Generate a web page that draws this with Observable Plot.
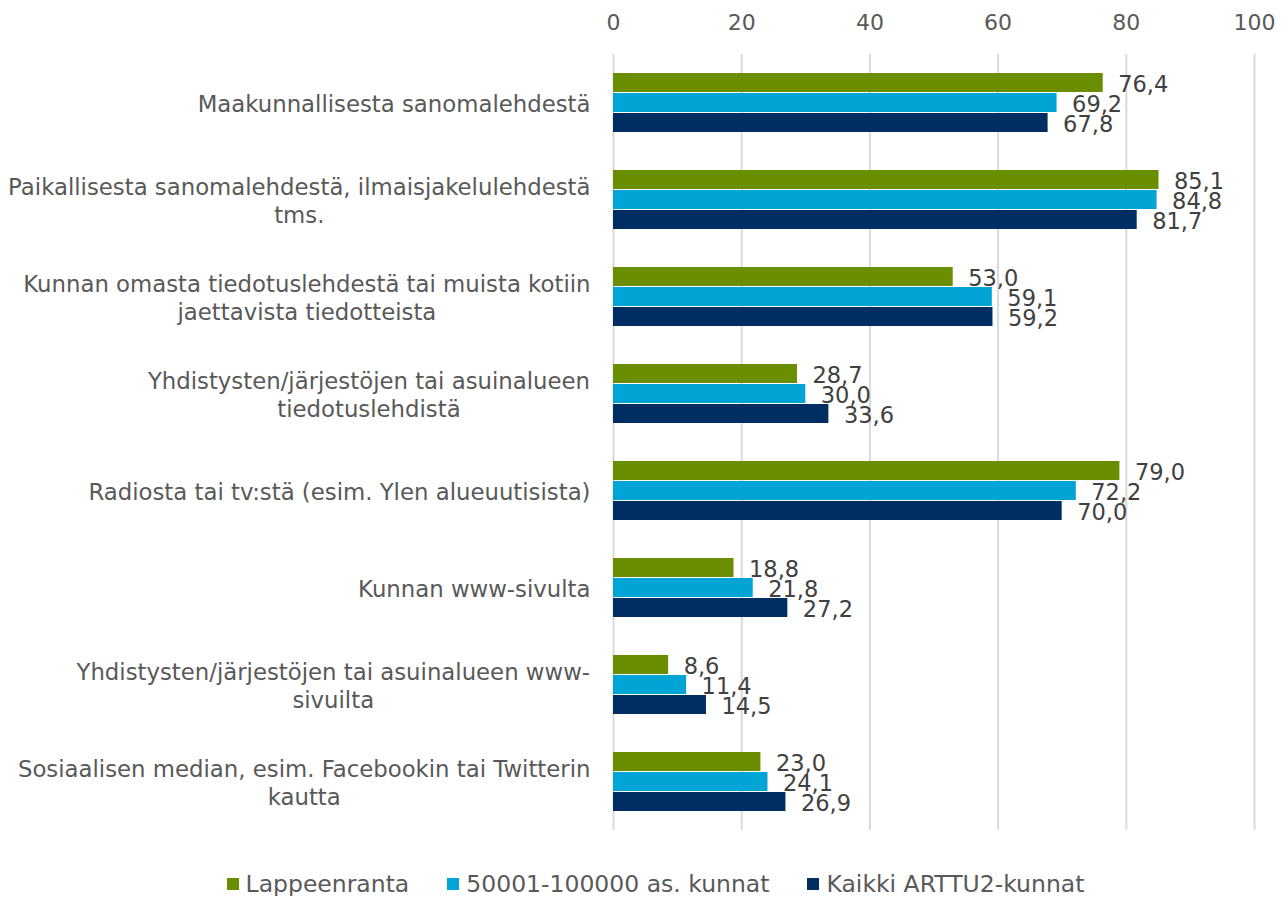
<!DOCTYPE html>
<html><head><meta charset="utf-8">
<script src="https://cdn.jsdelivr.net/npm/d3@7"></script>
<script src="https://cdn.jsdelivr.net/npm/@observablehq/plot@0.6"></script>
<style>
body{margin:0;background:#fff;font-family:"DejaVu Sans",Verdana,sans-serif;}
#legend{display:flex;justify-content:center;align-items:center;gap:38px;padding-top:22px;padding-left:28px;font-size:23.5px;color:#595959;line-height:24px;}
#legend .item{display:flex;align-items:center;gap:7px;}
#legend .sw{width:12px;height:12px;display:inline-block;}
</style></head><body><div id="chart"></div><div id="legend"></div>
<script>
const categories = [
  "Maakunnallisesta sanomalehdestä",
  "Paikallisesta sanomalehdestä, ilmaisjakelulehdestä\ntms.",
  "Kunnan omasta tiedotuslehdestä tai muista kotiin\njaettavista tiedotteista",
  "Yhdistysten/järjestöjen tai asuinalueen\ntiedotuslehdistä",
  "Radiosta tai tv:stä (esim. Ylen alueuutisista)",
  "Kunnan www-sivulta",
  "Yhdistysten/järjestöjen tai asuinalueen www-\nsivuilta",
  "Sosiaalisen median, esim. Facebookin tai Twitterin\nkautta"
];
const seriesNames = ["Lappeenranta", "50001-100000 as. kunnat", "Kaikki ARTTU2-kunnat"];
const lappeenranta = [76.4, 85.1, 53.0, 28.7, 79.0, 18.8, 8.6, 23.0];
const kunnat50 = [69.2, 84.8, 59.1, 30.0, 72.2, 21.8, 11.4, 24.1];
const kaikki = [67.8, 81.7, 59.2, 33.6, 70.0, 27.2, 14.5, 26.9];
const colors = ["#6b8e00", "#00a5d6", "#002d62"];
const xTicks = [0, 20, 40, 60, 80, 100];

const seriesValues = [lappeenranta, kunnat50, kaikki];
const data = [];
categories.forEach((c, i) => seriesValues.forEach((arr, j) =>
  data.push({category: c, series: seriesNames[j], value: arr[i]})));
const fmt = v => v.toFixed(1).replace(".", ",");

const plot = Plot.plot({
  width: 1283, height: 850,
  marginLeft: 613, marginRight: 29, marginTop: 53.5, marginBottom: 20,
  style: {fontFamily: '"DejaVu Sans", Verdana, sans-serif', fontSize: "20px", color: "#595959", background: "#fff", overflow: "visible"},
  x: {domain: [0, 100], axis: null},
  fy: {domain: categories, padding: 0, label: null},
  y: {domain: seriesNames, paddingInner: 0, paddingOuter: 0.9, axis: null},
  color: {domain: seriesNames, range: colors},
  marks: [
    Plot.gridX(xTicks, {stroke: "#d9d9d9", strokeOpacity: 1, strokeWidth: 2}),
    // x tick labels, drawn only in the top facet
    Plot.text(xTicks, {x: d => d, fy: () => categories[0], text: d => String(d), frameAnchor: "top", lineAnchor: "middle", dy: -31.5, fontSize: 22, fill: "#595959"}),
    Plot.barX(data, {fy: "category", y: "series", x: "value", fill: "series", insetTop: 0.5, insetBottom: 0.5}),
    Plot.text(data, {fy: "category", y: "series", x: "value", text: d => fmt(d.value), textAnchor: "start", dx: 15, dy: 2, fill: "#404040", fontSize: 22.5}),
    Plot.axisFy({anchor: "left", tickSize: 0, tickPadding: 23, fontSize: 22.8, lineHeight: 1.25, fill: "#595959", label: null, lineWidth: 1000})
  ]
});
document.getElementById("chart").appendChild(plot);

// center-align multi-line category labels within their block
plot.querySelectorAll('g[aria-label="fy-axis tick label"] text').forEach(t => {
  const tspans = t.querySelectorAll("tspan");
  if (tspans.length < 2) return;
  const w = t.getBBox().width;
  t.setAttribute("text-anchor", "middle");
  tspans.forEach(s => s.setAttribute("x", -w / 2));
});

const legend = document.getElementById("legend");
seriesNames.forEach((s, i) => {
  const it = document.createElement("div");
  it.className = "item";
  it.innerHTML = `<span class="sw" style="background:${colors[i]}"></span><span>${s}</span>`;
  legend.appendChild(it);
});
</script></body></html>
